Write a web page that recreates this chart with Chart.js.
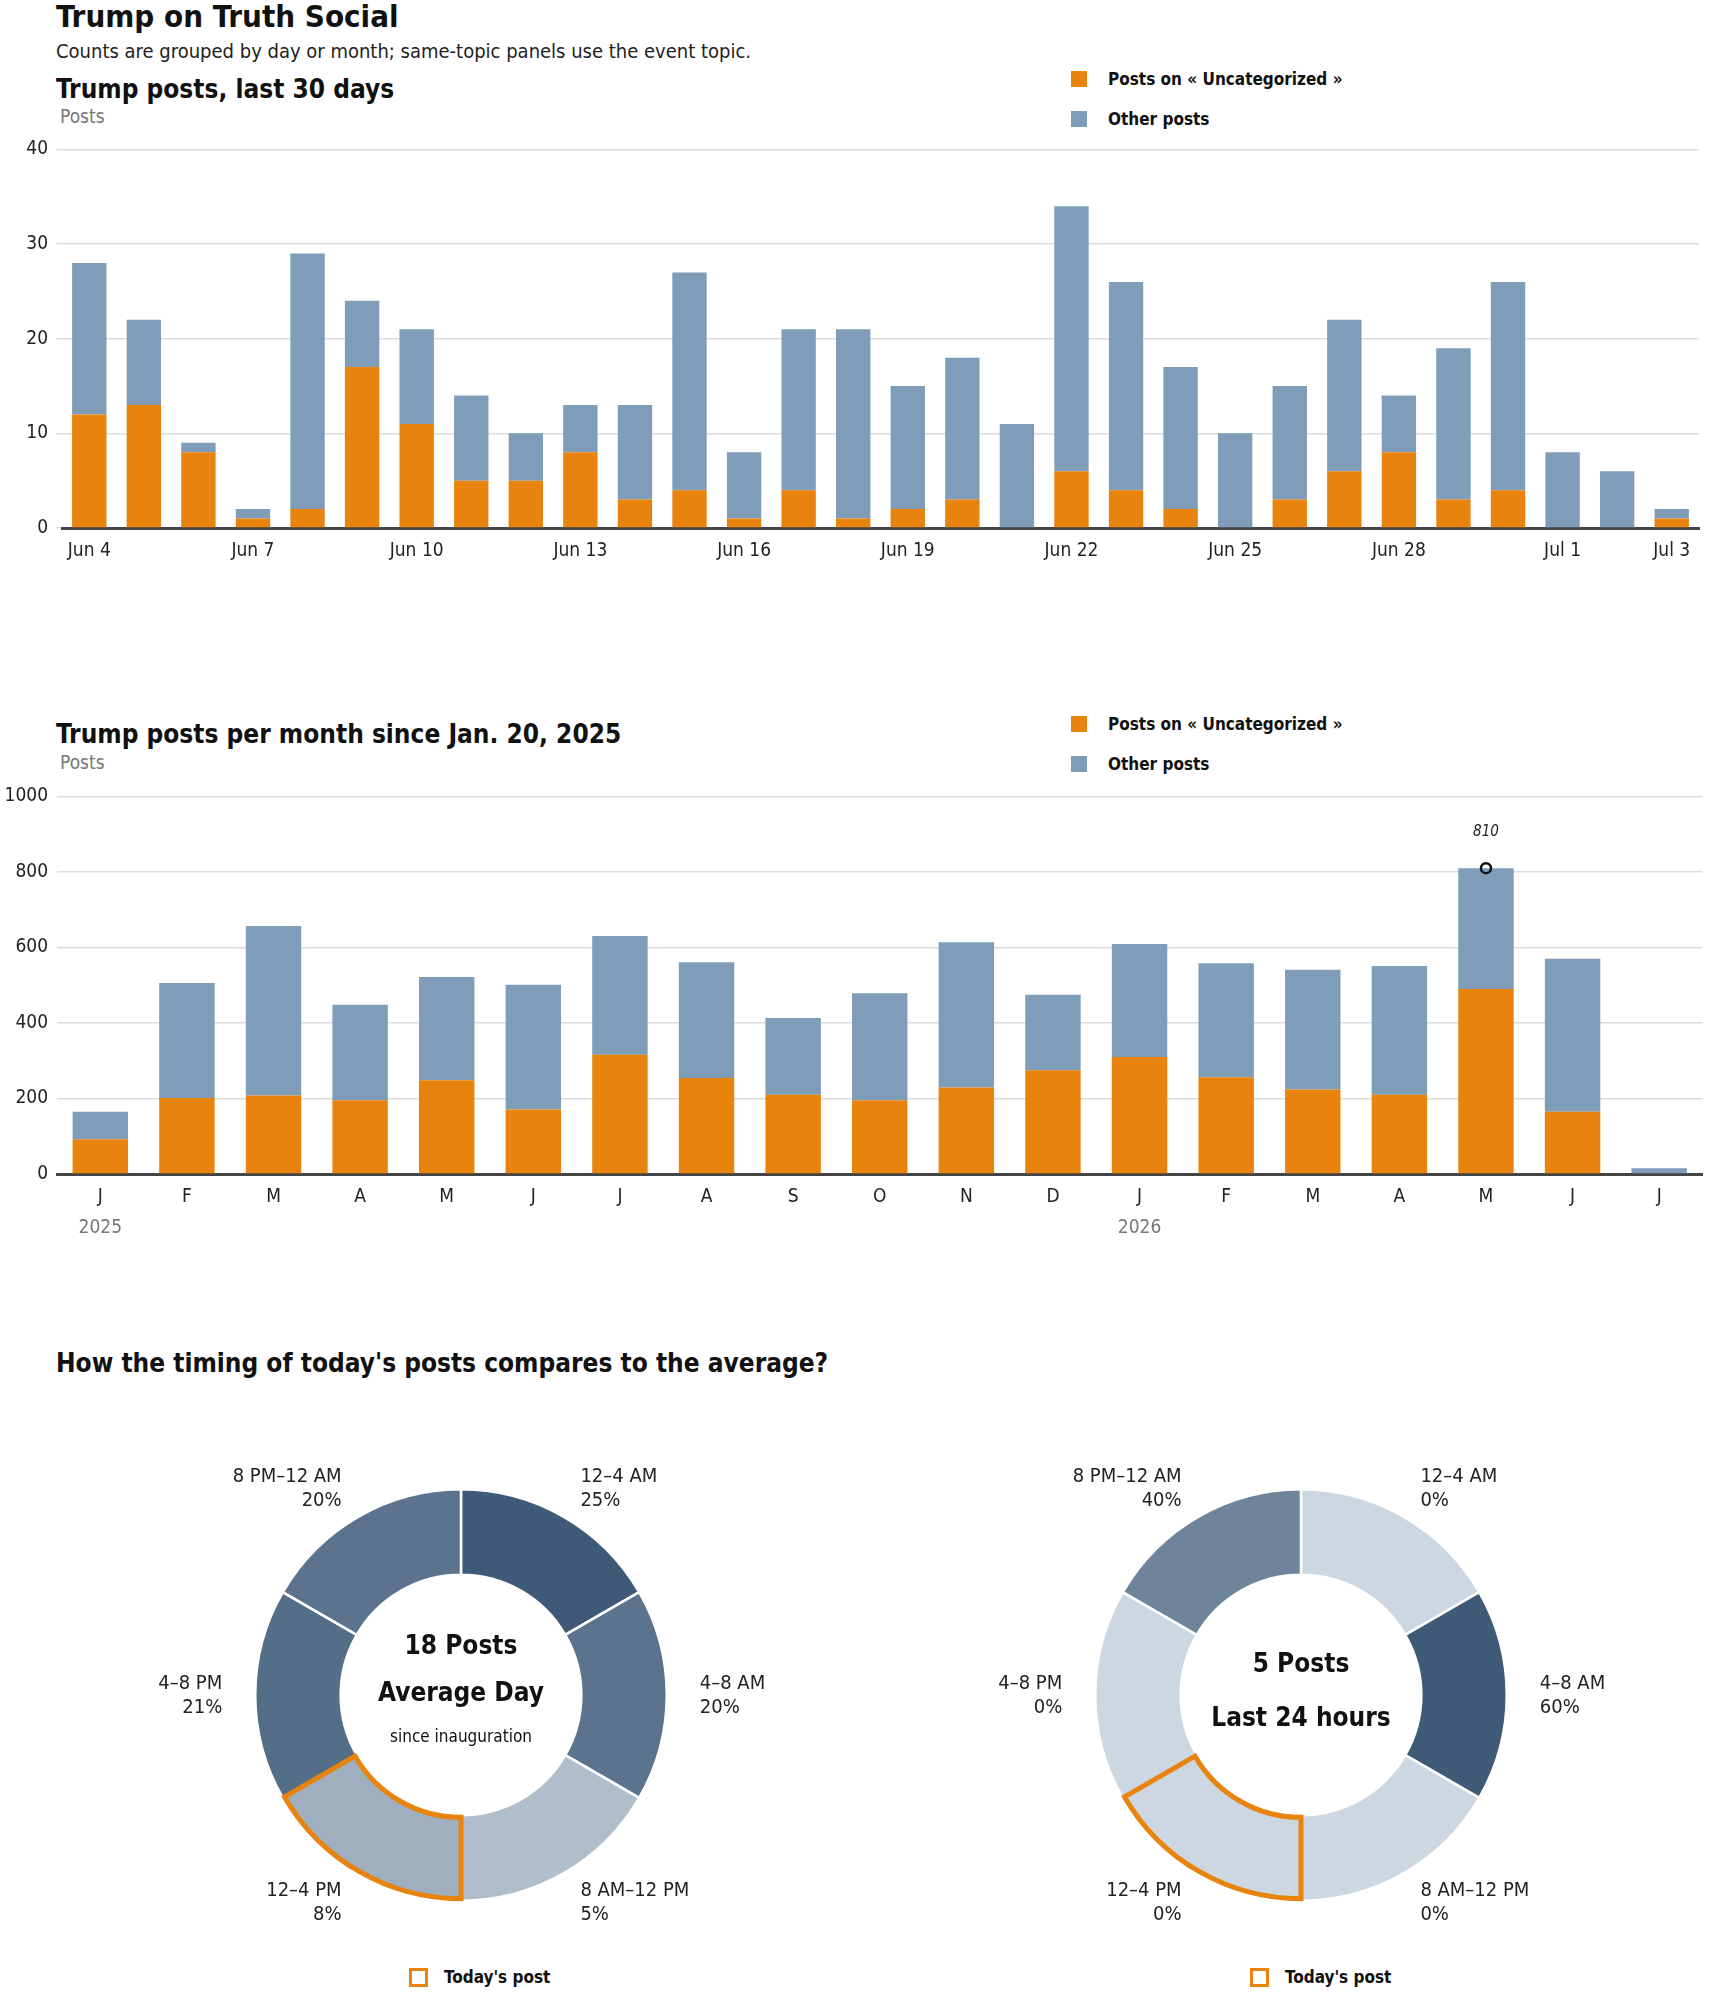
<!DOCTYPE html>
<html>
<head>
<meta charset="utf-8">
<title>Trump on Truth Social</title>
<script src="https://cdn.jsdelivr.net/npm/chart.js@4.4.1/dist/chart.umd.min.js"></script>
<style>
  body { margin: 0; background: #fff; }
  #page { position: relative; width: 1710px; height: 1993px; color: #111;
    font-family: "Liberation Sans Narrow", "DejaVu Sans Condensed", "Roboto Condensed", sans-serif; }
  .t { position: absolute; white-space: nowrap; }
  .h1 { font-size: 31px; font-weight: 700; line-height: 32px; }
  .sub { font-size: 20px; line-height: 24px; color: #222; }
  .h2 { font-size: 26px; font-weight: 700; line-height: 30px; }
  .unit { font-size: 19px; line-height: 20px; color: #777; }
  .lg { font-size: 17px; font-weight: 700; line-height: 16px; }
  .sw { position: absolute; width: 16px; height: 16px; }
  .box { position: absolute; width: 19px; height: 19px; box-sizing: border-box; border: 3px solid #e8830e; }
  canvas { position: absolute; }
</style>
</head>
<body>
<div id="page">
  <div class="t h1" style="left:56px;top:0px">Trump on Truth Social</div>
  <div class="t sub" style="left:56px;top:39px">Counts are grouped by day or month; same-topic panels use the event topic.</div>

  <div class="t h2" style="left:56px;top:74px">Trump posts, last 30 days</div>
  <div class="t unit" style="left:60px;top:106px">Posts</div>
  <div class="sw" style="left:1071px;top:71px;background:#e8830e"></div>
  <div class="t lg" style="left:1108px;top:71px">Posts on « Uncategorized »</div>
  <div class="sw" style="left:1071px;top:111px;background:#7f9db9"></div>
  <div class="t lg" style="left:1108px;top:111px">Other posts</div>
  <canvas id="daily" style="left:0;top:130px"></canvas>

  <div class="t h2" style="left:56px;top:719px">Trump posts per month since Jan. 20, 2025</div>
  <div class="t unit" style="left:60px;top:752px">Posts</div>
  <div class="sw" style="left:1071px;top:716px;background:#e8830e"></div>
  <div class="t lg" style="left:1108px;top:716px">Posts on « Uncategorized »</div>
  <div class="sw" style="left:1071px;top:756px;background:#7f9db9"></div>
  <div class="t lg" style="left:1108px;top:756px">Other posts</div>
  <canvas id="monthly" style="left:0;top:776px"></canvas>

  <div class="t h2" style="left:56px;top:1348px">How the timing of today's posts compares to the average?</div>
  <canvas id="avgDonut" style="left:111px;top:1445px"></canvas>
  <canvas id="todayDonut" style="left:951px;top:1445px"></canvas>
  <div class="box" style="left:409px;top:1968px"></div>
  <div class="t lg" style="left:444px;top:1969px">Today's post</div>
  <div class="box" style="left:1250px;top:1968px"></div>
  <div class="t lg" style="left:1285px;top:1969px">Today's post</div>
</div>

<script>
// ---- data ----
const days = ["Jun 4","Jun 5","Jun 6","Jun 7","Jun 8","Jun 9","Jun 10","Jun 11","Jun 12","Jun 13",
  "Jun 14","Jun 15","Jun 16","Jun 17","Jun 18","Jun 19","Jun 20","Jun 21","Jun 22","Jun 23",
  "Jun 24","Jun 25","Jun 26","Jun 27","Jun 28","Jun 29","Jun 30","Jul 1","Jul 2","Jul 3"];
const dailyTopic = [12,13,8,1,2,17,11,5,5,8,3,4,1,4,1,2,3,0,6,4,2,0,3,6,8,3,4,0,0,1];
const dailyOther = [16,9,1,1,27,7,10,9,5,5,10,23,7,17,20,13,15,11,28,22,15,10,12,16,6,16,22,8,6,1];

const months = ["J","F","M","A","M","J","J","A","S","O","N","D","J","F","M","A","M","J","J"];
const years = ["2025","","","","","","","","","","","","2026","","","","","",""];
const monthlyTopic = [92,201,208,195,248,171,316,254,210,195,229,275,310,256,224,210,490,165,0];
const monthlyOther = [73,305,449,253,274,330,314,307,203,284,385,200,299,302,317,341,320,405,15];
const peakIndex = 16;
const peakValue = 810;

const slots = ["12–4 AM","4–8 AM","8 AM–12 PM","12–4 PM","4–8 PM","8 PM–12 AM"];
const slotHours = [4,4,4,4,4,4];
const avgShare = [25,20,5,8,21,20];
const todayShare = [0,60,0,0,0,40];
const currentSlot = 3;

// ---- styles ----
const ORANGE = "#e8830e";
const BLUE = "#7f9db9";
const FONT = "'Liberation Sans Narrow', 'DejaVu Sans Condensed', 'Roboto Condensed', sans-serif";
Chart.defaults.font.family = FONT;
Chart.defaults.font.size = 19;
Chart.defaults.color = "#222";
Chart.defaults.animation = false;
Chart.defaults.plugins.legend.display = false;
Chart.defaults.plugins.tooltip.enabled = false;

function sizeCanvas(id, w, h) {
  const c = document.getElementById(id);
  c.style.width = w + "px"; c.style.height = h + "px";
  c.width = w; c.height = h;
  return c;
}

function yScale(max, step, width, tickLen, pad) {
  return {
    stacked: true, min: 0, max: max,
    ticks: { stepSize: step, padding: pad, color: "#222", callback: v => String(v) },
    grid: { color: "#dcdcdc", lineWidth: 1.5, tickLength: tickLen, drawTicks: tickLen > 0 },
    border: { display: false },
    afterFit(s) { s.width = width; }
  };
}

// daily chart
new Chart(sizeCanvas("daily", 1710, 430), {
  type: "bar",
  data: {
    labels: days,
    datasets: [
      { label: "Posts on « Uncategorized »", data: dailyTopic, backgroundColor: ORANGE },
      { label: "Other posts", data: dailyOther, backgroundColor: BLUE }
    ]
  },
  options: {
    responsive: false,
    layout: { padding: { top: 17, right: 11, left: 0, bottom: 0 } },
    datasets: { bar: { categoryPercentage: 1, barPercentage: 0.63 } },
    scales: {
      x: {
        stacked: true,
        grid: { display: false },
        border: { color: "#444", width: 3 },
        ticks: {
          autoSkip: false, maxRotation: 0, padding: 4,
          callback(v, i) { return (i % 3 === 0 || i === days.length - 1) ? days[i] : ""; }
        },
        afterFit(s) { s.height = 32; }
      },
      y: yScale(40, 10, 62, 6, 8)
    }
  }
});

// monthly chart
const peakData = months.map((m, i) => i === peakIndex ? peakValue : null);
const peakLabel = {
  id: "peakLabel",
  afterDatasetsDraw(chart) {
    const pt = chart.getDatasetMeta(2).data[peakIndex];
    const ctx = chart.ctx;
    ctx.save();
    ctx.font = "italic 15px " + FONT;
    ctx.fillStyle = "#222";
    ctx.textAlign = "center";
    ctx.textBaseline = "middle";
    ctx.fillText(String(peakValue), pt.x, pt.y - 36);
    ctx.restore();
  }
};
new Chart(sizeCanvas("monthly", 1710, 475), {
  type: "bar",
  data: {
    labels: months,
    datasets: [
      { label: "Posts on « Uncategorized »", data: monthlyTopic, backgroundColor: ORANGE, order: 2 },
      { label: "Other posts", data: monthlyOther, backgroundColor: BLUE, order: 2 },
      { type: "line", label: "peak", data: peakData, showLine: false, order: 0,
        pointRadius: 5, pointBorderWidth: 2.5, pointBorderColor: "#111", pointBackgroundColor: "rgba(0,0,0,0)" }
    ]
  },
  options: {
    responsive: false,
    layout: { padding: { top: 17, right: 5, left: 0, bottom: 0 } },
    datasets: { bar: { categoryPercentage: 1, barPercentage: 0.64 } },
    scales: {
      x: {
        stacked: true,
        grid: { display: false },
        border: { color: "#444", width: 3 },
        ticks: { autoSkip: false, maxRotation: 0, padding: 4 },
        afterFit(s) { s.height = 32; }
      },
      x2: {
        type: "category", position: "bottom", labels: years, offset: true,
        grid: { display: false }, border: { display: false },
        ticks: { autoSkip: false, maxRotation: 0, padding: 3, color: "#777" },
        afterFit(s) { s.height = 45; }
      },
      y: yScale(1000, 200, 57, 0, 9)
    }
  },
  plugins: [peakLabel]
});

// donuts
function shade(v, max) {
  const lo = [205, 215, 225], hi = [62, 90, 119];
  const t = max ? v / max : 0;
  const c = lo.map((l, k) => Math.round(l + (hi[k] - l) * t));
  return "rgb(" + c.join(",") + ")";
}

const donutDecor = {
  id: "donutDecor",
  afterDatasetsDraw(chart, args, opts) {
    const ctx = chart.ctx;
    const arcs = chart.getDatasetMeta(0).data;
    const a = arcs[opts.highlight];
    ctx.save();
    ctx.beginPath();
    ctx.arc(a.x, a.y, a.outerRadius - 2, a.startAngle, a.endAngle);
    ctx.arc(a.x, a.y, a.innerRadius + 2, a.endAngle, a.startAngle, true);
    ctx.closePath();
    ctx.lineWidth = 5;
    ctx.lineJoin = "miter";
    ctx.strokeStyle = ORANGE;
    ctx.stroke();

    ctx.fillStyle = "#222";
    ctx.font = "20px " + FONT;
    ctx.textBaseline = "middle";
    arcs.forEach((arc, i) => {
      const mid = (arc.startAngle + arc.endAngle) / 2;
      const rr = arc.outerRadius + 33;
      const lx = arc.x + Math.cos(mid) * rr;
      const ly = arc.y + Math.sin(mid) * rr;
      ctx.textAlign = Math.cos(mid) >= 0 ? "left" : "right";
      ctx.fillText(slots[i], lx, ly - 11);
      ctx.fillText(opts.shares[i] + "%", lx, ly + 13);
    });

    ctx.textAlign = "center";
    ctx.fillStyle = "#111";
    opts.center.forEach(line => {
      ctx.font = line.font + " " + FONT;
      ctx.fillText(line.text, a.x, a.y + line.dy);
    });
    ctx.restore();
  }
};

function donut(id, shares, center) {
  const max = Math.max(...shares);
  new Chart(sizeCanvas(id, 700, 500), {
    type: "doughnut",
    data: {
      labels: slots,
      datasets: [{
        data: slotHours,
        backgroundColor: shares.map(v => shade(v, max)),
        borderColor: "#fff",
        borderWidth: 2.5
      }]
    },
    options: {
      responsive: false,
      cutout: "58.5%",
      layout: { padding: { top: 43, bottom: 43 } },
      plugins: { donutDecor: { highlight: currentSlot, shares: shares, center: center } }
    },
    plugins: [donutDecor]
  });
}

donut("avgDonut", avgShare, [
  { text: "18 Posts", font: "bold 26px", dy: -48 },
  { text: "Average Day", font: "bold 26px", dy: -1 },
  { text: "since inauguration", font: "17px", dy: 43 }
]);
donut("todayDonut", todayShare, [
  { text: "5 Posts", font: "bold 26px", dy: -30 },
  { text: "Last 24 hours", font: "bold 26px", dy: 24 }
]);
</script>
</body>
</html>
